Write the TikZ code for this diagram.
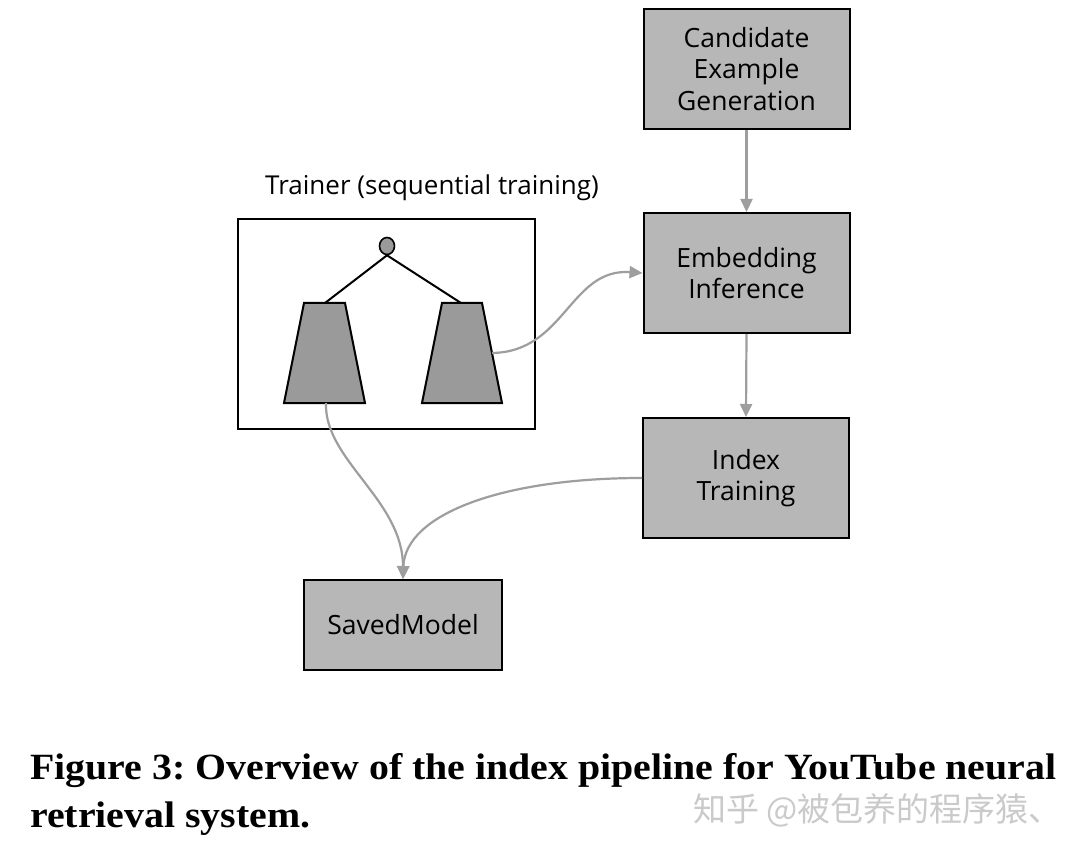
\documentclass[tikz,border=0pt]{standalone}
\usepackage{fontspec}
\setmainfont{Open Sans}
\newfontfamily\capfont{Liberation Serif}
\newfontfamily\cjk{Noto Sans CJK SC}
\usetikzlibrary{arrows.meta,shapes.geometric}
\definecolor{boxgray}{HTML}{B7B7B7}
\definecolor{darkgray}{HTML}{9A9A9A}
\definecolor{arrowgray}{HTML}{9E9E9E}
\definecolor{wmgray}{HTML}{CACACA}
\frenchspacing
\begin{document}
\begin{tikzpicture}[x=1pt,y=-1pt,
  stage/.style={draw=black,line width=2pt,fill=boxgray,minimum width=206pt,minimum height=120pt,
    align=center,font=\fontsize{26.5}{31.5}\selectfont,inner sep=0pt},
  flow/.style={draw=arrowgray,line width=2.2pt,-{Triangle[length=13pt,width=12pt]}},
  solid line/.style={draw=black,line width=2pt},
  captext/.style={anchor=base west,inner sep=0pt,font=\capfont\bfseries\fontsize{37}{47}\selectfont}]
\useasboundingbox (0,0) rectangle (1080,853);
\fill[white] (0,0) rectangle (1080,853);
% boxes
\node[stage] (cand) at (746.5,69) {Candidate\\Example\\Generation};
\node[stage] (emb) at (746.5,273) {Embedding\\Inference};
\node[stage] (idx) at (746,478) {Index\\Training};
\node[stage,minimum width=198pt,minimum height=90pt] (saved) at (403,625) {SavedModel};
% trainer
\node[draw=black,line width=2pt,fill=white,minimum width=297pt,minimum height=210pt,inner sep=0pt] (trainer) at (386.5,324) {};
\node[font=\fontsize{26}{30}\selectfont,anchor=base,inner sep=0pt] (trlabel) at (432,195) {Trainer (sequential training)};
% towers
\draw[solid line,fill=darkgray] (304,303) -- (345,303) -- (365,403) -- (284,403) -- cycle;
\draw[solid line,fill=darkgray] (442,303) -- (482,303) -- (502,403) -- (422,403) -- cycle;
\coordinate (ltop) at (325,303);
\coordinate (rtop) at (461,303);
\coordinate (lbot) at (326,403);
\coordinate (rside) at (492,353);
\node[draw=black,line width=1.6pt,fill=darkgray,ellipse,minimum width=15pt,minimum height=17pt,inner sep=0pt] (root) at (387,246) {};
\draw[solid line] (root.south) -- (ltop);
\draw[solid line] (root.south) -- (rtop);
% connectors
\draw[flow] (cand.south) -- (emb.north);
\draw[flow] (emb.south) -- (idx.north);
\draw[flow] (rside) .. controls (565,352) and (570,268) .. (emb.west);
\draw[flow] (lbot) .. controls (324,460) and (403,500) .. (saved.north);
\draw[flow] (idx.west) .. controls (500,478) and (405,515) .. (saved.north);
% caption
\node[captext] (cap1) at (30,779) {\scalebox{1.077}[1]{Figure 3: Overview of the index pipeline for YouTube neural}};
\node[captext] (cap2) at (30,827) {\scalebox{1.077}[1]{retrieval system.}};
\node[anchor=base west,inner sep=0pt,text=wmgray,font=\cjk\fontsize{33}{36}\selectfont] (wm) at (693,821) {知乎 @被包养的程序猿、};
\end{tikzpicture}
\end{document}
